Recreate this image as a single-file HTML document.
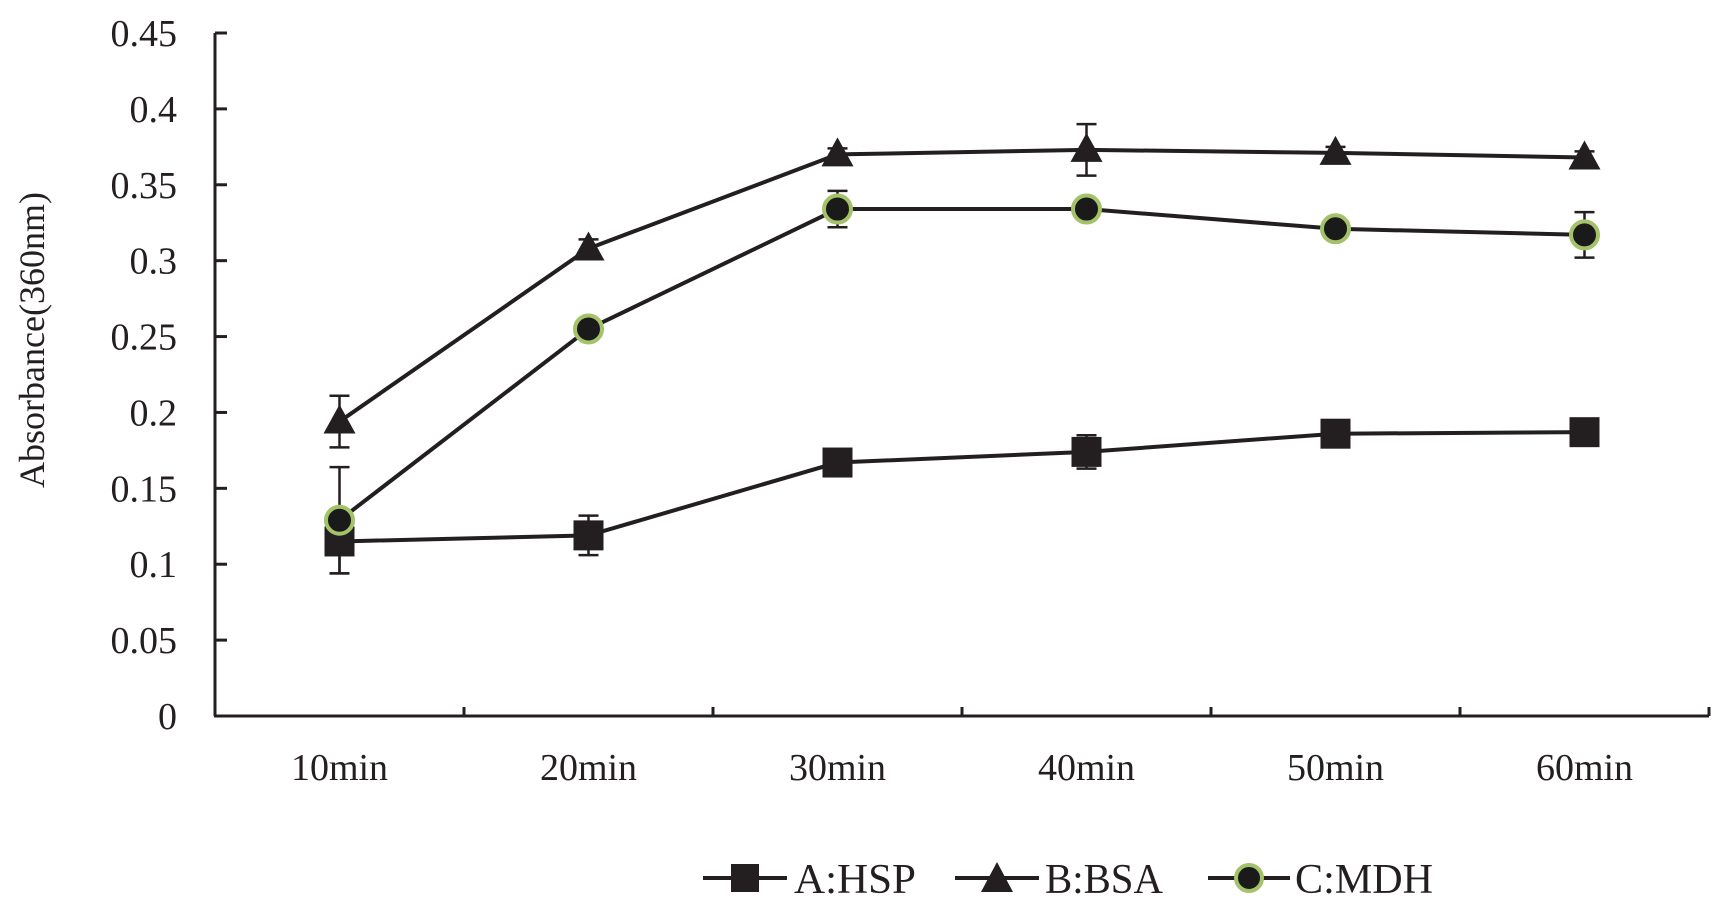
<!DOCTYPE html>
<html><head><meta charset="utf-8"><style>
html,body{margin:0;padding:0;background:#fff;}
svg{display:block;}
text{font-family:"Liberation Serif",serif;fill:#231f20;}
</style></head><body>
<svg id="chart" width="1721" height="905" xmlns="http://www.w3.org/2000/svg">
<g id="axes"></g>
<g id="series"></g>
<text transform="translate(44,340) rotate(-90)" text-anchor="middle" font-size="36">Absorbance(360nm)</text>
<g>
 <g>
  <line x1="703" y1="878" x2="787" y2="878" stroke="#231f20" stroke-width="4"/>
  <rect x="731" y="864" width="28" height="28" fill="#231f20"/>
  <text x="794" y="893" font-size="42" textLength="122" lengthAdjust="spacingAndGlyphs">A:HSP</text>
 </g>
 <g>
  <line x1="955" y1="878" x2="1039" y2="878" stroke="#231f20" stroke-width="4"/>
  <polygon points="997,862 1013,892 981,892" fill="#231f20"/>
  <text x="1045" y="893" font-size="42" textLength="118" lengthAdjust="spacingAndGlyphs">B:BSA</text>
 </g>
 <g>
  <line x1="1208" y1="878" x2="1290" y2="878" stroke="#231f20" stroke-width="4"/>
  <circle cx="1249" cy="878" r="13" fill="#1a1a1a" stroke="#a3c26a" stroke-width="4"/>
  <text x="1295" y="893" font-size="42" textLength="138" lengthAdjust="spacingAndGlyphs">C:MDH</text>
 </g>
</g>
</svg>
<script>
const categories = ["10min","20min","30min","40min","50min","60min"];
const yTicks = [0,0.05,0.1,0.15,0.2,0.25,0.3,0.35,0.4,0.45];
const yTickLabels = ["0","0.05","0.1","0.15","0.2","0.25","0.3","0.35","0.4","0.45"];
const hspValues = [0.115,0.119,0.167,0.174,0.186,0.187];
const hspErrors = [0.021,0.013,0.006,0.011,0.006,0.006];
const bsaValues = [0.194,0.308,0.370,0.373,0.371,0.368];
const bsaErrors = [0.017,0.006,0.004,0.017,0.004,0.004];
const mdhValues = [0.129,0.255,0.334,0.334,0.321,0.317];
const mdhErrors = [0.035,0.004,0.012,0.004,0.004,0.015];

const NS="http://www.w3.org/2000/svg";
const X0=215, X1=1709, Y0=716, YTOP=33, YMAX=0.45;
const bw=(X1-X0)/categories.length;
function xPos(i){return X0+bw*(i+0.5);}
function yPos(v){return Y0-(v/YMAX)*(Y0-YTOP);}
function mk(tag,attrs,parent){const e=document.createElementNS(NS,tag);for(const k in attrs)e.setAttribute(k,attrs[k]);parent.appendChild(e);return e;}
const axes=document.getElementById('axes');
let l=mk('line',{x1:X0,y1:YTOP,x2:X0,y2:Y0,stroke:'#231f20','stroke-width':3},axes);


l=mk('line',{x1:X0-1,y1:Y0,x2:X1,y2:Y0,stroke:'#231f20','stroke-width':3},axes);


yTicks.forEach((v,i)=>{
  const y=yPos(v);
  const t=mk('line',{x1:X0,y1:y,x2:X0+12,y2:y,stroke:'#231f20','stroke-width':3},axes);
  
  
  const tx=mk('text',{x:177,y:y+13,'text-anchor':'end','font-size':38},axes);
  tx.textContent=yTickLabels[i];
  
  
});
for(let i=1;i<=categories.length;i++){
  const x=X0+bw*i;
  const t=mk('line',{x1:x,y1:Y0,x2:x,y2:Y0-9,stroke:'#231f20','stroke-width':3},axes);
  
  
}
categories.forEach((c,i)=>{
  const tx=mk('text',{x:xPos(i),y:780,'text-anchor':'middle','font-size':38},axes);
  tx.textContent=c;
  
  
});
const ser=document.getElementById('series');
function drawSeries(name,vals,errs,marker){
  const g=mk('g',{},ser);
  
  
  vals.forEach((v,i)=>{
    const x=xPos(i),ya=yPos(v+errs[i]),yb=yPos(v-errs[i]);
    const e=mk('path',{d:`M${x},${ya}V${yb}M${x-10},${ya}H${x+10}M${x-10},${yb}H${x+10}`,stroke:'#231f20','stroke-width':2.5,fill:'none'},g);
    
    
  });
  const pl=mk('polyline',{points:vals.map((v,i)=>xPos(i)+','+yPos(v)).join(' '),fill:'none',stroke:'#231f20','stroke-width':4},g);
  
  
  vals.forEach((v,i)=>{
    const x=xPos(i),y=yPos(v);let m;
    if(marker==='square')m=mk('rect',{x:x-15,y:y-15,width:30,height:30,fill:'#231f20'},g);
    else if(marker==='tri')m=mk('polygon',{points:`${x},${y-17} ${x+16},${y+12} ${x-16},${y+12}`,fill:'#231f20'},g);
    else m=mk('circle',{cx:x,cy:y,r:13.5,fill:'#1a1a1a',stroke:'#a3c26a','stroke-width':4},g);
    
    
  });
}
drawSeries('hsp',hspValues,hspErrors,'square');
drawSeries('bsa',bsaValues,bsaErrors,'tri');
drawSeries('mdh',mdhValues,mdhErrors,'circle');
</script>
</body></html>
